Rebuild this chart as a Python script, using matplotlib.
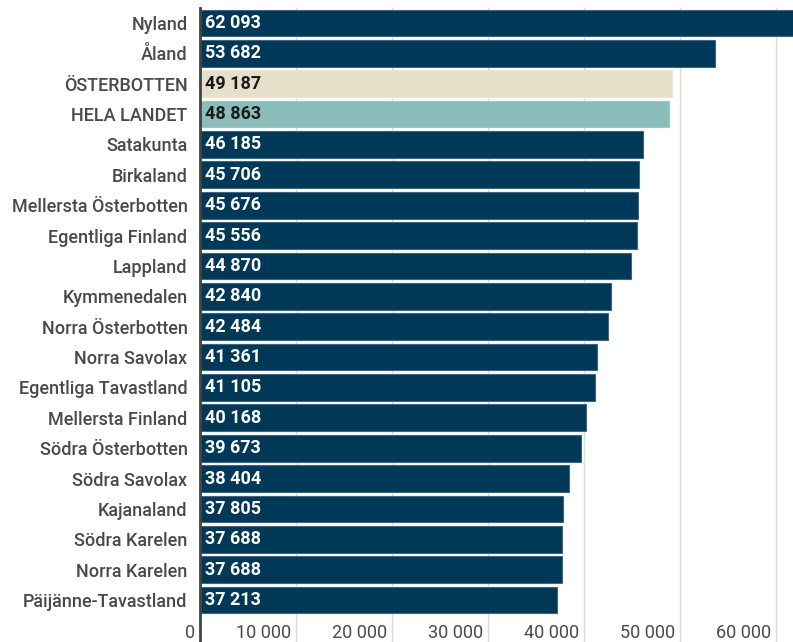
import matplotlib
matplotlib.use("Agg")
import matplotlib.pyplot as plt
import matplotlib.transforms as mtrans

regions = ["Nyland", "Åland", "ÖSTERBOTTEN", "HELA LANDET", "Satakunta", "Birkaland",
           "Mellersta Österbotten", "Egentliga Finland", "Lappland", "Kymmenedalen",
           "Norra Österbotten", "Norra Savolax", "Egentliga Tavastland", "Mellersta Finland",
           "Södra Österbotten", "Södra Savolax", "Kajanaland", "Södra Karelen",
           "Norra Karelen", "Päijänne-Tavastland"]
values = [62093, 53682, 49187, 48863, 46185, 45706, 45676, 45556, 44870, 42840,
          42484, 41361, 41105, 40168, 39673, 38404, 37805, 37688, 37688, 37213]
xticks = [0, 10000, 20000, 30000, 40000, 50000, 60000]

NAVY = "#003857"
BEIGE = "#E6DFC9"
TEAL = "#8ABDBA"
colors = [BEIGE if r == "ÖSTERBOTTEN" else TEAL if r == "HELA LANDET" else NAVY for r in regions]
edges = ["#ECE6D4" if c == BEIGE else "#9CC8C5" if c == TEAL else "#3F6580" for c in colors]

plt.rcParams['font.family'] = ['Roboto', 'DejaVu Sans']

fig = plt.figure(figsize=(7.93, 6.42), dpi=100)
ax = fig.add_axes([200/793, 0, 1 - 200/793, 1 - 8/642])

def fmt(v):
    return f"{v:,}".replace(",", " ")

ypos = list(range(len(regions)))
ax.barh(ypos, values, height=0.88, color=colors, edgecolor=edges, linewidth=0.8, zorder=2)
for y, v, c in zip(ypos, values, colors):
    tc = "white" if c == NAVY else "#1a1a1a"
    ax.text(550, y, fmt(v), va="center", ha="left", color=tc, fontsize=13,
            fontweight="bold", zorder=3)

ax.set_xlim(0, 61770)
ax.set_ylim(20.38, -0.49)
ax.set_yticks(ypos)
ax.set_yticklabels(regions, fontsize=13, color="#4a4a4a", fontweight="medium")
ax.tick_params(axis="y", length=0, pad=9)

ax.set_xticks(xticks)
ax.set_xticklabels([fmt(t) for t in xticks], fontsize=13, color="#4a4a4a", ha="right")
ax.tick_params(axis="x", length=0, pad=-13)
offset = mtrans.ScaledTranslation(-5/100, 0, fig.dpi_scale_trans)
for lbl in ax.get_xticklabels():
    lbl.set_transform(lbl.get_transform() + offset)
ax.set_zorder(1)

for t in xticks[1:]:
    ax.axvline(t, color="#dddddd", linewidth=1, zorder=0)

for s in ["top", "right", "bottom"]:
    ax.spines[s].set_visible(False)
ax.spines["left"].set_color("#444444")
ax.spines["left"].set_linewidth(2)
ax.spines["left"].set_zorder(4)

fig.savefig("out.png", dpi=100)
